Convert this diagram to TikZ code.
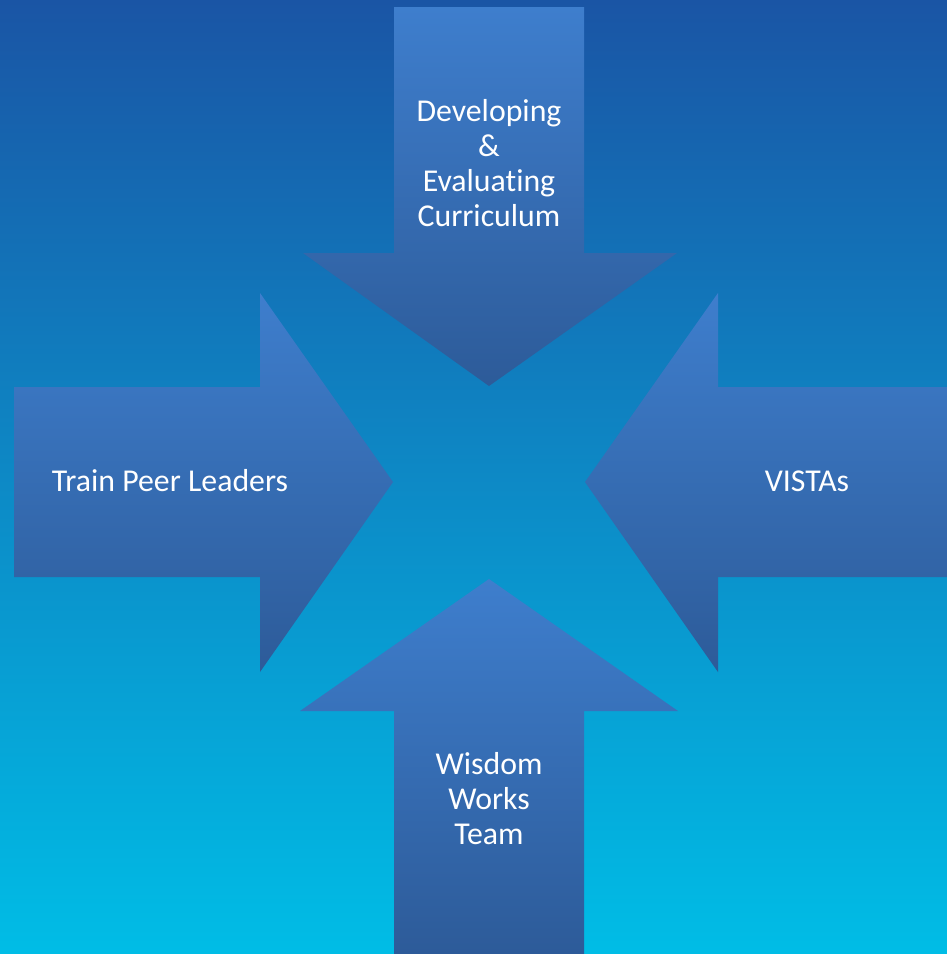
\documentclass[tikz,border=0pt]{standalone}
\usepackage{fontspec}
\setmainfont{Carlito}[Ligatures=NoCommon]
\usetikzlibrary{positioning}
\definecolor{bgtop}{HTML}{1A55A5}
\definecolor{bgbot}{HTML}{00BDE6}
\definecolor{arrtop}{HTML}{3E7ECD}
\definecolor{arrbot}{HTML}{2D5B99}

\begin{document}
\begin{tikzpicture}[x=1pt, y=-1pt,
    arrowshape/.style={top color=arrtop, bottom color=arrbot},
    arrowtext/.style={text=white, align=center, font=\fontsize{31.8}{35}\selectfont}]
        \useasboundingbox (0,0) rectangle (947,954);
        \shade[top color=bgtop, bottom color=bgbot] (0,0) rectangle (947,954);

        % the four arrows pointing inwards
        \shade[arrowshape] (394,7) -- (584,7) -- (584,253) -- (677,253) -- (489,386) -- (303,253) -- (394,253) -- cycle;
        \shade[arrowshape] (14,387) -- (260,387) -- (260,293) -- (393,482) -- (260,672) -- (260,577) -- (14,577) -- cycle;
        \shade[arrowshape] (947,387) -- (718,387) -- (718,293) -- (585,482) -- (718,672) -- (718,577) -- (947,577) -- cycle;
        \shade[arrowshape] (489,579) -- (678,711) -- (584,711) -- (584,954) -- (394,954) -- (394,711) -- (300,711) -- cycle;

        \node (curric) [arrowtext] at (489,163) {Developing\\\&\\Evaluating\\Curriculum};
        \node (train) [arrowtext] at (170,481) {Train Peer Leaders};
        \node (vistas) [arrowtext] at (807,481) {VISTAs};
        \node (wisdom) [arrowtext] at (489,799) {Wisdom\\Works\\Team};
\end{tikzpicture}
\end{document}
